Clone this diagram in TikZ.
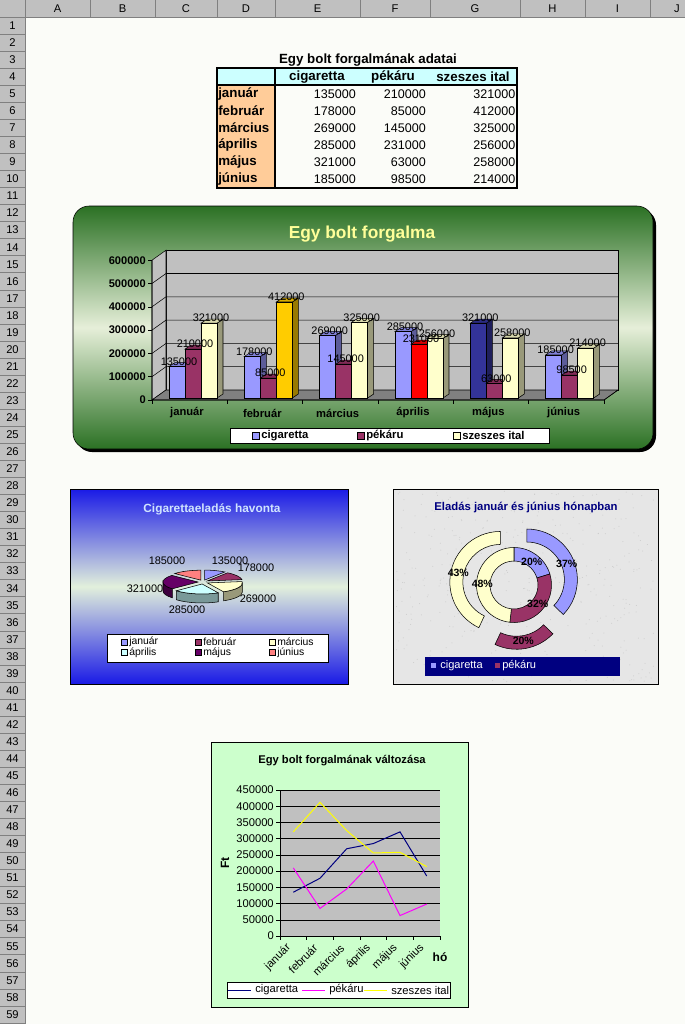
\documentclass[tikz,border=0pt]{standalone}
\usepackage{fontspec}
\setmainfont{Liberation Sans}
\definecolor{sheetbg}{HTML}{FBFCF8}
\definecolor{hdrgray}{HTML}{C0C0C0}
\definecolor{hdrline}{HTML}{808080}
\definecolor{headcyan}{HTML}{CCFFFF}
\definecolor{monthorange}{HTML}{FFCC99}
\definecolor{cig}{HTML}{9999FF}
\definecolor{pek}{HTML}{993366}
\definecolor{sze}{HTML}{FFFFCC}
\definecolor{febsze}{HTML}{FFCC00}
\definecolor{aprpek}{HTML}{FF0000}
\definecolor{majcig}{HTML}{333399}
\definecolor{wallgray}{HTML}{C0C0C0}
\definecolor{floorgray}{HTML}{808080}
\definecolor{darkgreen}{HTML}{2B7124}
\definecolor{palegreen}{HTML}{E6EFD9}
\definecolor{titleyellow}{HTML}{FFFF99}
\definecolor{deepblue}{HTML}{1A1AE6}
\definecolor{paleblue}{HTML}{E2F0DC}
\definecolor{pietitle}{HTML}{D0E4FF}
\definecolor{aprpie}{HTML}{CCFFFF}
\definecolor{majpie}{HTML}{660066}
\definecolor{junpie}{HTML}{FF8080}
\definecolor{marble}{HTML}{E6E6E6}
\definecolor{navy}{HTML}{000080}
\definecolor{mint}{HTML}{CCFFCC}
\definecolor{plotgray}{HTML}{C0C0C0}
\definecolor{pekline}{HTML}{FF00FF}
\definecolor{szeline}{HTML}{FFFF00}
\tikzset{
  hdrtext/.style={font=\fontsize{8.4}{9}\selectfont, inner sep=0},
  tabtitle/.style={font=\bfseries\fontsize{10}{11}\selectfont, inner sep=0},
  tabmonth/.style={font=\bfseries\fontsize{10}{11}\selectfont, inner sep=0, anchor=west},
  tabnum/.style={font=\fontsize{9.4}{11}\selectfont, inner sep=0, anchor=east},
  barline/.style={draw=black, line width=0.4pt},
  numlbl/.style={font=\fontsize{8.2}{9}\selectfont, inner sep=0},
  axlbl/.style={font=\bfseries\fontsize{8.3}{9}\selectfont, inner sep=0, anchor=east},
  catlbl/.style={font=\bfseries\fontsize{8.4}{9}\selectfont, inner sep=0},
  leglbl/.style={font=\bfseries\fontsize{8.5}{9}\selectfont, inner sep=0, anchor=west},
  pieleg/.style={font=\fontsize{7.8}{9}\selectfont, inner sep=0, anchor=west},
  pctlbl/.style={font=\bfseries\fontsize{7.9}{9}\selectfont, inner sep=0},
  lnlbl/.style={font=\fontsize{8.4}{9}\selectfont, inner sep=0}
}
% one 3D bar: left x, value in hundreds, colour
\newcommand\barcube[3]{%
  \pgfmathsetmacro\bt{398-#2*0.0233}
  \filldraw[barline, fill=#3!60!black] (#1+16,398) -- (#1+16,\bt) -- (#1+22,\bt-4) -- (#1+22,394) -- cycle;
  \filldraw[barline, fill=#3!85!black] (#1,\bt) -- (#1+6,\bt-4) -- (#1+22,\bt-4) -- (#1+16,\bt) -- cycle;
  \filldraw[barline, fill=#3] (#1,398) rectangle (#1+16,\bt);}
% pie slice top and wall: start, end, colour
\newcommand\pietop[3]{%
  \begin{scope}[shift={({5*cos((#1+#2)/2)},{2*sin((#1+#2)/2)})}]
    \filldraw[barline, fill=#3] (0,0) -- ({35*cos(#1)},{10*sin(#1)}) arc[start angle=#1, end angle=#2, x radius=35, y radius=10] -- cycle;
  \end{scope}}
\newcommand\piewall[5]{%
  \begin{scope}[shift={({5*cos((#1+#2)/2)},{2*sin((#1+#2)/2)})}]
    \filldraw[barline, fill=#5] ({35*cos(#3)},{10*sin(#3)}) arc[start angle=#3, end angle=#4, x radius=35, y radius=10] -- ++(0,-9) arc[start angle=#4, end angle=#3, x radius=35, y radius=10] -- cycle;
  \end{scope}}
% doughnut segment: from, to, inner, outer, colour, explode
\newcommand\ringpart[6]{%
  \begin{scope}[shift={({(#1+#2)/2}:#6)}]
    \filldraw[barline, fill=#5] (#1:#3) -- (#1:#4) arc[start angle=#1, end angle=#2, radius=#4] -- (#2:#3) arc[start angle=#2, end angle=#1, radius=#3] -- cycle;
  \end{scope}}
\begin{document}
\begin{tikzpicture}[x=0.75pt, y=-0.75pt]
  \useasboundingbox (0,0) rectangle (685,1024);
  % sheet and headers
  \fill[sheetbg] (0,0) rectangle (685,1024);
  \fill[hdrgray] (0,0) rectangle (685,17);
  \fill[hdrgray] (0,0) rectangle (25,1024);
  \foreach \x in {25,90,155,217,275,360,430,520,585,650}
    \draw[hdrline] (\x,0) -- (\x,17);
  \draw[hdrline] (0,17) -- (685,17);
  \foreach \r in {1,...,59}
    \draw[hdrline] (0,{17+17.05*\r}) -- (25,{17+17.05*\r});
  \draw[hdrline] (25,0) -- (25,1024);
  \foreach \c/\x in {A/57.5,B/122.5,C/186,D/246,E/317.5,F/395,G/475,H/552.5,I/617.5,J/677}
    \node[hdrtext] (col\c) at (\x,8.5) {\c};
  \foreach \r in {1,...,59}
    \node[hdrtext] (row\r) at (12.5,{8.45+17.05*\r}) {\r};

  % data table
  \node[tabtitle] (tabtitle) at (368,60) {Egy bolt forgalmának adatai};
  \fill[headcyan] (217,68.2) rectangle (517,85.2);
  \fill[monthorange] (217,85.2) rectangle (275,187.5);
  \draw[line width=1.5pt] (217,68.2) rectangle (517,187.5);
  \draw[line width=1.5pt] (275,68.2) -- (275,187.5);
  \draw[line width=1.5pt] (217,85.2) -- (517,85.2);
  \node[tabtitle] (hcig) at (317,77) {cigaretta};
  \node[tabtitle] (hpek) at (393,77) {pékáru};
  \node[tabtitle] (hsze) at (473,77) {szeszes ital};
  \foreach \mo/\va/\vb/\vc [count=\r from 0] in {január/135000/210000/321000,
      február/178000/85000/412000, március/269000/145000/325000,
      április/285000/231000/256000, május/321000/63000/258000,
      június/185000/98500/214000}{
    \node[tabmonth] (mo\r) at (218,{94+17.05*\r}) {\mo};
    \node[tabnum] (e\r) at (356,{94+17.05*\r}) {\va};
    \node[tabnum] (f\r) at (426,{94+17.05*\r}) {\vb};
    \node[tabnum] (g\r) at (515.5,{94+17.05*\r}) {\vc};
  }

  % column chart
  \fill[black, rounded corners=12] (76,209) rectangle (656,452);
  \shadedraw[draw=black, rounded corners=12, top color=darkgreen, bottom color=darkgreen, middle color=palegreen] (73,206) rectangle (653,449);
  \node[font=\bfseries\fontsize{13}{15}\selectfont, text=titleyellow, inner sep=0] (bartitle) at (362,234) {Egy bolt forgalma};
  \filldraw[barline, fill=wallgray] (166,250.2) rectangle (618,390);
  \filldraw[barline, fill=wallgray] (152,260.2) -- (166,250.2) -- (166,390) -- (152,400) -- cycle;
  \filldraw[barline, fill=floorgray] (152,400) -- (166,390) -- (618,390) -- (604,400) -- cycle;
  \foreach \k in {1,...,5}
    \draw (152,{400-23.3*\k}) -- (166,{390-23.3*\k}) -- (618,{390-23.3*\k});
  \draw (152,260.2) -- (152,400) -- (604,400) -- (618,390);
  \foreach \k/\t in {0/0,1/100000,2/200000,3/300000,4/400000,5/500000,6/600000}{
    \draw (148,{400-23.3*\k}) -- (152,{400-23.3*\k});
    \node[axlbl] (ya\k) at (146,{400-23.3*\k}) {\t};
  }
  \foreach \k in {0,...,6}
    \draw ({152+75.33*\k},400) -- ({152+75.33*\k},404);
  \foreach \lab/\va/\vb/\vc/\ca/\cb/\cc [count=\i from 0] in {
      január/1350/2100/3210/cig/pek/sze, február/1780/850/4120/cig/pek/febsze,
      március/2690/1450/3250/cig/pek/sze, április/2850/2310/2560/cig/aprpek/sze,
      május/3210/630/2580/majcig/pek/sze, június/1850/985/2140/cig/pek/sze}{
    \pgfmathsetmacro\gx{169+75.33*\i}
    \barcube{\gx}{\va}{\ca}
    \barcube{\gx+16}{\vb}{\cb}
    \barcube{\gx+32}{\vc}{\cc}
    \node[numlbl] (ba\i) at (\gx+10,{393-\va*0.0233}) {\va00};
    \node[numlbl] (bb\i) at (\gx+26,{393-\vb*0.0233}) {\vb00};
    \node[numlbl] (bc\i) at (\gx+42,{393-\vc*0.0233}) {\vc00};
    \node[catlbl] (cat\i) at (\gx+18,413) {\lab};
  }
  \filldraw[barline, fill=white] (230,428) rectangle (549,443);
  \foreach \lab/\col/\x [count=\i] in {cigaretta/cig/252, pékáru/pek/357, szeszes ital/sze/453}{
    \filldraw[barline, fill=\col] (\x,432) rectangle (\x+7,439);
    \node[leglbl] (bl\i) at (\x+9,435.5) {\lab};
  }

  % pie chart
  \shadedraw[draw=black, top color=deepblue, bottom color=deepblue, middle color=paleblue] (70,489) rectangle (348,684);
  \node[font=\bfseries\fontsize{8.9}{10}\selectfont, text=pietitle, inner sep=0] (pietitle) at (212,509) {Cigarettaeladás havonta};
  \begin{scope}[shift={(203,582)}, y=0.75pt]
    \pietop{90}{138.5}{junpie}
    \pietop{54.6}{90}{cig}
    \pietop{7.9}{54.6}{pek}
    \piewall{138.5}{222.7}{180}{222.7}{majpie!60!black}
    \pietop{138.5}{222.7}{majpie}
    \piewall{-62.6}{7.9}{-62.6}{0}{sze!60!black}
    \pietop{-62.6}{7.9}{sze}
    \piewall{-137.3}{-62.6}{-137.3}{-62.6}{aprpie!60!black}
    \pietop{-137.3}{-62.6}{aprpie}
  \end{scope}
  \foreach \t/\x/\y [count=\i] in {135000/230/561, 178000/256/568, 269000/258/599,
      285000/187/610, 321000/145/589, 185000/167/561}
    \node[numlbl] (pl\i) at (\x,\y) {\t};
  \filldraw[barline, fill=white] (107,634) rectangle (328,662);
  \foreach \lab/\col/\x/\y [count=\i] in {január/cig/121/642, február/pek/195/642,
      március/sze/269/642, április/aprpie/121/652.3, május/majpie/195/652.3,
      június/junpie/269/652.3}{
    \filldraw[barline, fill=\col] (\x,\y-3) rectangle (\x+6,\y+3);
    \node[pieleg] (pg\i) at (\x+8,\y) {\lab};
  }

  % doughnut chart
  \filldraw[barline, fill=marble] (393,489) rectangle (658,684);
  \pgfmathsetseed{11}
  \foreach \n in {1,...,420}
    \fill[gray!40] ({395+261*rnd},{491+191*rnd}) circle (0.5);
  \node[font=\bfseries\fontsize{8.5}{10}\selectfont, text=navy, inner sep=0] (ringtitle) at (526,508) {Eladás január és június hónapban};
  \begin{scope}[shift={(514,585)}, y=0.75pt]
    \ringpart{17.1}{90}{24}{37.5}{cig}{0}
    \ringpart{-96.3}{17.1}{24}{37.5}{pek}{0}
    \ringpart{90}{263.7}{24}{37.5}{sze}{0}
    \ringpart{-43.9}{90}{37.5}{50.5}{cig}{14}
    \ringpart{-115.2}{-43.9}{37.5}{50.5}{pek}{14}
    \ringpart{90}{244.8}{37.5}{50.5}{sze}{14}
  \end{scope}
  \foreach \t/\x/\y [count=\i] in {20\%/531.7/561.7, 37\%/566.7/564, 43\%/458.3/573.3,
      48\%/482.3/584, 32\%/537.7/604.3, 20\%/523.3/640.7}
    \node[pctlbl] (pc\i) at (\x,\y) {\t};
  \fill[navy] (425,657) rectangle (620,676);
  \fill[cig] (431,663) rectangle (436,668);
  \node[pieleg, font=\fontsize{8.3}{9}\selectfont, text=white] (rl1) at (440,665.5) {cigaretta};
  \fill[pek] (495,663) rectangle (500,668);
  \node[pieleg, font=\fontsize{8.3}{9}\selectfont, text=white] (rl2) at (502,665.5) {pékáru};

  % line chart
  \filldraw[barline, fill=mint] (211,742) rectangle (468,1007);
  \node[font=\bfseries\fontsize{8.4}{10}\selectfont, inner sep=0] (lntitle) at (342,761) {Egy bolt forgalmának változása};
  \fill[plotgray] (280,790) rectangle (440,936);
  \foreach \k in {1,...,9}
    \draw (280,{936-16.222*\k}) -- (440,{936-16.222*\k});
  \draw (280,790) -- (280,936) -- (440,936);
  \foreach \k/\t in {0/0,1/50000,2/100000,3/150000,4/200000,5/250000,6/300000,7/350000,8/400000,9/450000}{
    \draw (276,{936-16.222*\k}) -- (280,{936-16.222*\k});
    \node[lnlbl, anchor=east] (ly\k) at (274,{936-16.222*\k}) {\t};
  }
  \foreach \k in {0,...,6}
    \draw ({280+26.667*\k},936) -- ({280+26.667*\k},940);
  \foreach \lab [count=\i from 0] in {január,február,március,április,május,június}
    \node[lnlbl, rotate=45, anchor=east] (lx\i) at ({289+26.667*\i},946) {\lab};
  \node[font=\bfseries\fontsize{9}{10}\selectfont, rotate=90, inner sep=0] (ft) at (225,863) {Ft};
  \node[font=\bfseries\fontsize{9}{10}\selectfont, inner sep=0] (ho) at (440,957) {hó};
  \foreach \col/\va/\vb/\vc/\vd/\ve/\vf in {navy/1350/1780/2690/2850/3210/1850,
      pekline/2100/850/1450/2310/630/985, szeline/3210/4120/3250/2560/2580/2140}
    \draw[\col, line width=0.75pt] (293.3,{936-\va*0.03244}) -- (320,{936-\vb*0.03244})
      -- (346.7,{936-\vc*0.03244}) -- (373.3,{936-\vd*0.03244})
      -- (400,{936-\ve*0.03244}) -- (426.7,{936-\vf*0.03244});
  \filldraw[barline, fill=white] (227,982) rectangle (450,998);
  \foreach \lab/\col/\x [count=\i] in {cigaretta/navy/228, pékáru/pekline/302, szeszes ital/szeline/364}{
    \draw[\col, line width=0.75pt] (\x,990) -- (\x+23,990);
    \node[lnlbl, anchor=west] (ll\i) at (\x+27,990) {\lab};
  }
\end{tikzpicture}
\end{document}
